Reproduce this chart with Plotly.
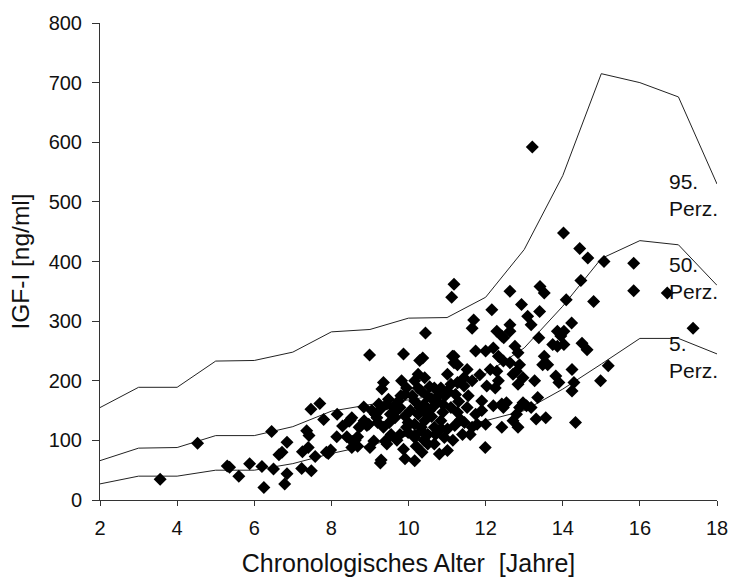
import plotly.graph_objects as go

# Percentile reference curves (IGF-I, ng/ml) by age in years
ages = list(range(2, 19))
p95 = [155, 189, 189, 233, 234, 248, 282, 286, 305, 306, 340, 420, 544, 715, 700, 676, 530]
p50 = [66, 87, 88, 108, 108, 123, 149, 160, 168, 178, 212, 255, 325, 405, 435, 428, 360]
p5 = [27, 40, 40, 50, 50, 61, 78, 92, 108, 121, 133, 150, 186, 228, 271, 271, 245]

# Individual measurements: chronological age [years] and IGF-I [ng/ml]
age_obs = [
    3.56, 4.53, 5.3, 5.36, 5.6, 5.88, 6.2, 6.25, 6.5, 6.45, 6.64, 6.72, 6.85, 6.85, 6.79,
    7.47, 7.7, 7.8, 7.36, 7.42, 7.25, 7.4, 7.23, 7.48, 7.58, 7.87, 7.92, 7.98,
    8.15, 8.14, 8.29, 8.49, 8.4, 8.55, 8.53, 8.62, 8.76, 8.84, 8.53, 8.46, 8.68, 8.68,
    8.85, 8.97, 8.72, 8.99, 9.0, 9.1, 8.92,
    9.35, 9.31, 9.48, 9.23, 9.27, 9.35, 9.44, 9.4, 9.27, 9.29, 9.87, 9.91, 9.65, 9.78,
    9.91, 9.99, 9.95, 9.82, 9.95, 9.91, 9.78, 9.99, 9.53, 9.65, 9.14, 9.18, 9.74, 9.44,
    9.87, 9.6, 9.5, 9.7, 9.55, 9.2, 9.8, 9.05,
    10.16, 10.29, 10.37, 10.44, 10.16, 10.25, 10.33, 10.16, 10.25, 10.42, 10.67, 10.84,
    10.5, 10.33, 10.76, 10.16, 10.25, 10.42, 10.33, 10.5, 10.67, 10.84, 10.93, 10.67,
    10.8, 10.5, 10.67, 10.89, 10.16, 10.16, 10.4, 10.55, 10.3, 10.75, 10.45, 10.9, 10.6,
    10.2, 10.35, 10.05, 10.6, 10.85, 10.95, 10.1, 10.7, 10.4, 10.55,
    11.01, 11.01, 11.01, 11.1, 11.18, 11.12, 11.69, 11.65, 11.74, 12.0, 11.18, 11.27,
    11.52, 11.44, 11.65, 11.1, 11.01, 11.22, 11.27, 11.44, 11.9, 11.27, 11.52, 11.74,
    11.78, 12.0, 11.65, 11.99, 11.14, 11.18, 11.3, 11.4, 11.6, 11.2, 11.35, 11.55, 11.85,
    11.9, 11.15, 11.45,
    12.16, 12.63, 12.29, 12.42, 12.63, 12.2, 12.33, 12.46, 12.12, 12.29, 12.63, 12.33,
    12.03, 12.25, 12.2, 12.42, 12.42, 12.93, 12.63, 12.47, 12.76, 12.84, 12.88, 12.8,
    12.97, 12.71, 12.84, 12.97, 12.88, 12.8, 12.71, 12.84, 12.46, 12.54,
    13.41, 13.52, 13.4, 13.09, 13.18, 13.38, 13.21, 13.52, 13.61, 13.48, 13.27, 13.35,
    13.06, 13.18, 13.31, 13.56, 13.74, 13.86, 13.82, 13.9, 13.86, 13.95,
    14.02, 14.44, 14.65, 15.07, 14.47, 14.09, 14.8, 14.23, 14.03, 14.03, 14.5, 14.63,
    14.24, 14.29, 14.24, 14.98, 15.18, 14.33, 15.84, 15.84, 16.71, 17.38,
]
igf_obs = [
    35, 95, 57, 55, 40, 61, 56, 21, 52, 115, 76, 80, 97, 44, 27,
    152, 162, 135, 116, 108, 81, 88, 53, 49, 73, 80, 78, 84,
    144, 106, 124, 134, 106, 98, 88, 100, 124, 156, 138, 132, 106, 90,
    133, 127, 122, 243, 88, 99, 125,
    197, 186, 169, 161, 152, 122, 94, 99, 62, 67, 85, 69, 147, 155,
    141, 130, 122, 200, 188, 177, 110, 113, 144, 138, 144, 138, 166, 161,
    245, 155, 130, 100, 110, 130, 175, 150,
    66, 234, 238, 280, 200, 188, 116, 108, 211, 205, 188, 188,
    174, 183, 174, 166, 144, 133, 122, 110, 122, 133, 105, 94,
    77, 94, 158, 147, 127, 105, 160, 150, 155, 165, 145, 160, 140,
    90, 80, 150, 170, 120, 175, 175, 110, 100, 190,
    83, 119, 211, 155, 362, 340, 302, 288, 250, 250, 241, 227,
    219, 205, 200, 194, 183, 177, 197, 191, 166, 147, 155, 144,
    127, 127, 122, 88, 241, 230, 165, 110, 110, 125, 135, 175, 210,
    150, 100, 130,
    319, 350, 283, 275, 283, 255, 241, 233, 219, 216, 230, 200,
    191, 188, 158, 161, 122, 328, 294, 272, 258, 247, 227, 216,
    205, 211, 194, 163, 155, 144, 133, 122, 155, 163,
    358, 347, 316, 308, 294, 272, 592, 241, 227, 227, 200, 172,
    158, 155, 136, 138, 261, 258, 208, 197, 283, 275,
    448, 422, 406, 400, 368, 336, 333, 297, 283, 261, 263, 252,
    219, 197, 183, 200, 225, 130, 397, 351, 347, 288,
]

# Curve labels: text, left x position, vertical centre
curve_labels = ["95.<br>Perz.", "50.<br>Perz.", "5.<br>Perz."]
label_x = [16.71, 16.71, 16.71]
label_y = [511, 373, 240]

FONT = "Liberation Sans, Arial, sans-serif"
INK = "#111111"

fig = go.Figure()

for curve in (p95, p50, p5):
    fig.add_trace(go.Scatter(
        x=ages, y=curve, mode="lines",
        line=dict(color="#222222", width=1),
        hoverinfo="skip", showlegend=False,
    ))

fig.add_trace(go.Scatter(
    x=age_obs, y=igf_obs, mode="markers",
    marker=dict(symbol="diamond", size=10, color="#000000", line=dict(width=0)),
    showlegend=False,
))

for txt, lx, ly in zip(curve_labels, label_x, label_y):
    fig.add_annotation(
        x=lx, y=ly, text=txt, showarrow=False,
        xanchor="left", yanchor="middle", align="left",
        font=dict(family=FONT, size=21, color=INK),
    )

fig.update_layout(
    width=740, height=588,
    margin=dict(l=100, r=13, t=20, b=88),
    paper_bgcolor="white", plot_bgcolor="white",
    font=dict(family=FONT, size=20, color=INK),
    showlegend=False,
)

fig.update_xaxes(
    range=[2, 18], tickmode="array", tickvals=list(range(2, 19, 2)),
    showgrid=False, zeroline=False,
    showline=True, linecolor="#333333", linewidth=1,
    ticks="outside", ticklen=5, tickcolor="#333333",
    ticklabelstandoff=5,
    tickfont=dict(family=FONT, size=20, color=INK),
    title=dict(text="Chronologisches Alter  [Jahre]",
               font=dict(family=FONT, size=25, color=INK), standoff=16),
)

fig.update_yaxes(
    range=[0, 800], tickmode="array", tickvals=list(range(0, 801, 100)),
    showgrid=False, zeroline=False,
    showline=True, linecolor="#333333", linewidth=1,
    ticks="outside", ticklen=7, tickcolor="#333333",
    ticklabelstandoff=6,
    tickfont=dict(family=FONT, size=20, color=INK),
    title=dict(text="IGF-I [ng/ml]",
               font=dict(family=FONT, size=24.5, color=INK), standoff=12),
)

fig.write_html("out.html")
